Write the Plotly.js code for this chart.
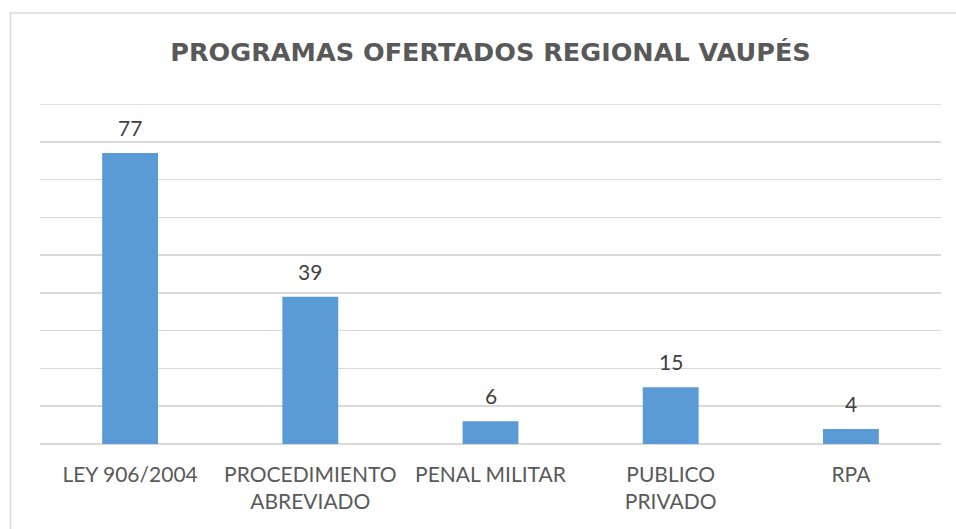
<!DOCTYPE html>
<html><head><meta charset="utf-8">
<script src="https://cdn.plot.ly/plotly-3.0.1.min.js"></script>
<style>html,body{margin:0;padding:0;background:#fff}#chart{width:956px;height:529px}</style>
</head><body><div id="chart"></div>
<script>
const categories = ["LEY 906/2004", "PROCEDIMIENTO<br>ABREVIADO", "PENAL MILITAR", "PUBLICO<br>PRIVADO", "RPA"];
const values = [77, 39, 6, 15, 4];
const yMax = 90;
const titleText = "PROGRAMAS OFERTADOS REGIONAL VAUPÉS";

const labelFont = {family: "Lato, 'Open Sans', sans-serif", size: 21, color: "#404040"};
const annotations = categories.map((c, i) => ({
  x: c, y: values[i], xref: 'x', yref: 'y', text: String(values[i]),
  showarrow: false, yanchor: 'bottom', yshift: 11, font: labelFont
}));

const pl = 40, pr = 941, pt = 104, pb = 444;
const pw = pr - pl, ph = pb - pt;
const shapes = [{
  type: 'rect', xref: 'paper', yref: 'paper', layer: 'below',
  x0: (10.5 - pl) / pw, x1: (1000 - pl) / pw,
  y0: (pb - 560) / ph, y1: (pb - 13) / ph,
  line: {color: '#d9d9d9', width: 1.5}, fillcolor: 'rgba(0,0,0,0)'
}, {
  type: 'line', xref: 'paper', yref: 'y', layer: 'below',
  x0: 0, x1: 1, y0: yMax, y1: yMax,
  line: {color: '#d9d9d9', width: 1.5}
}];

Plotly.newPlot('chart', [{
  type: 'bar', x: categories, y: values,
  marker: {color: '#5b9bd5'}, width: 0.31, hoverinfo: 'none'
}], {
  width: 956, height: 529,
  margin: {l: pl, r: 956 - pr, t: pt, b: 529 - pb, pad: 0},
  paper_bgcolor: '#fff', plot_bgcolor: '#fff',
  title: {text: '<b>' + titleText + '</b>', xref: 'paper', x: 0.5, xanchor: 'center', y: 1 - 52/529, yanchor: 'middle',
          font: {family: "'DejaVu Sans', sans-serif", size: 25.5, color: '#595959'}},
  xaxis: {type: 'category', showgrid: false, zeroline: false, showline: false, ticks: '',
          ticklabelstandoff: 16,
          tickfont: {family: "Lato, 'Open Sans', sans-serif", size: 21, color: '#595959'}},
  yaxis: {range: [0, yMax], dtick: 10, showticklabels: false, showgrid: true, gridcolor: '#d9d9d9', gridwidth: 1.5,
          zeroline: true, zerolinecolor: '#d9d9d9', zerolinewidth: 1.5, fixedrange: true},
  showlegend: false, bargap: 0.69,
  annotations: annotations, shapes: shapes
}, {displayModeBar: false, staticPlot: true});
</script></body></html>
